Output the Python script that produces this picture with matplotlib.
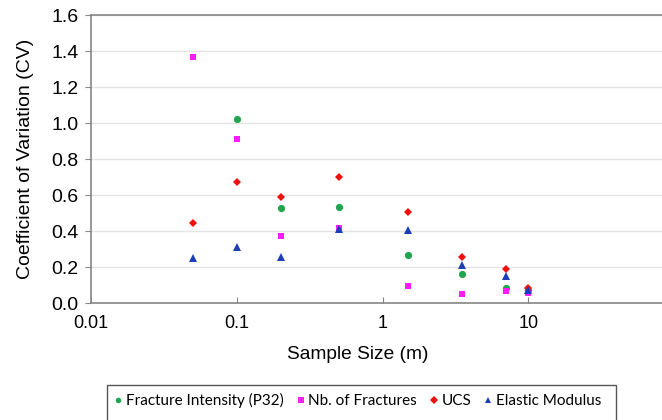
import matplotlib
matplotlib.use("Agg")
import matplotlib.pyplot as plt
from matplotlib.lines import Line2D
from matplotlib.patches import Rectangle

# Sample sizes (m)
sizes = [0.05, 0.1, 0.2, 0.5, 1.5, 3.5, 7, 10]

# Coefficient of variation per property
fracture_intensity = [None, 1.02, 0.53, 0.535, 0.265, 0.163, 0.085, 0.07]
nb_fractures = [1.368, 0.913, 0.373, 0.418, 0.092, 0.048, 0.068, 0.053]
ucs = [0.444, 0.671, 0.59, 0.70, 0.507, 0.253, 0.19, 0.083]
elastic_modulus = [0.25, 0.31, 0.257, 0.41, 0.407, 0.211, 0.148, 0.074]

series = [
    ("Fracture Intensity (P32)", fracture_intensity, "o", "#1fa64f", 5.2),
    ("Nb. of Fractures", nb_fractures, "s", "#ff1aff", 4.6),
    ("UCS", ucs, "D", "#f01010", 4.3),
    ("Elastic Modulus", elastic_modulus, "^", "#1c3fb8", 5.8),
]

plt.rcParams["font.family"] = ["Liberation Sans", "DejaVu Sans"]

W, H = 662, 420
fig = plt.figure(figsize=(W / 100, H / 100), dpi=100)
ax = fig.add_axes([91 / W, 1 - 303 / H, (674 - 91) / W, (303 - 15) / H])

handles = []
for label, vals, mk, col, ms in series:
    xs = [x for x, v in zip(sizes, vals) if v is not None]
    ys = [v for v in vals if v is not None]
    ax.plot(xs, ys, linestyle="none", marker=mk, color=col, markersize=ms,
            markeredgewidth=0, zorder=3)
    handles.append(Line2D([], [], linestyle="none", marker=mk, color=col,
                          markersize=4, markeredgewidth=0, label=label))

ax.set_xscale("log")
ax.set_xlim(0.01, 100)
ax.set_ylim(0, 1.6)
yt = [0.0, 0.2, 0.4, 0.6, 0.8, 1.0, 1.2, 1.4, 1.6]
ax.set_yticks(yt)
ax.set_yticklabels([f"{v:.1f}" for v in yt])
ax.set_xticks([0.01, 0.1, 1, 10])
ax.set_xticklabels(["0.01", "0.1", "1", "10"])
ax.minorticks_off()

ax.grid(axis="y", color="#e4e4e4", linewidth=1.0, zorder=0)
ax.set_axisbelow(True)
ax.spines["right"].set_visible(False)
for side in ["left", "bottom", "top"]:
    ax.spines[side].set_color("#868686")
    ax.spines[side].set_linewidth(1.2)

ax.tick_params(axis="y", direction="out", length=4, color="#868686",
               labelsize=14, pad=5)
ax.tick_params(axis="x", direction="in", length=4, color="#868686",
               labelsize=13, pad=9)

ax.set_xlabel("Sample Size (m)", fontsize=13.8, va="top", ha="center")
ax.xaxis.set_label_coords((358 - 91) / 583, -(346 - 303) / 288)
ax.set_ylabel("Coefficient of Variation (CV)", fontsize=14)
ax.yaxis.set_label_coords(-(91 - 34) / 583, 0.5)

leg = fig.legend(handles=handles, loc="upper left",
                 bbox_to_anchor=(107 / W, 1 - 385 / H),
                 ncol=4, frameon=False,
                 prop={"family": "Lato", "size": 11},
                 handlelength=0.4, handletextpad=0.3, columnspacing=0.9,
                 borderpad=0.55, borderaxespad=0)

# Legend frame running off the lower edge of the figure
fig.patches.append(Rectangle((107 / W, -0.05), (616 - 107) / W,
                             (1 - 385 / H) + 0.05, transform=fig.transFigure,
                             fill=False, edgecolor="#555555", linewidth=1.0))

fig.savefig("out.png", dpi=100)
